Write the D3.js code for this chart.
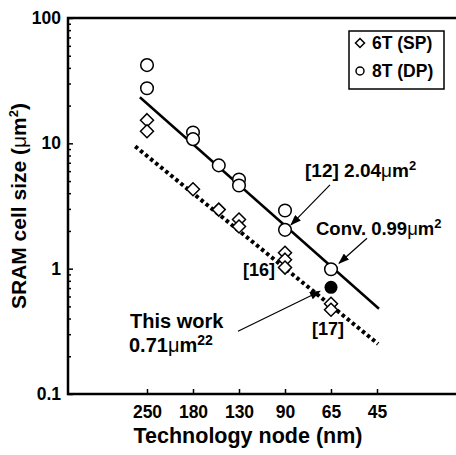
<!DOCTYPE html>
<html>
<head>
<meta charset="utf-8">
<script src="https://cdn.jsdelivr.net/npm/d3@7/dist/d3.min.js"></script>
<style type="text/css">
    body { margin: 0; background: #fff; }
    svg { display: block; font-family: Arial, "Liberation Sans", sans-serif; font-weight: bold; }
    .axis path { display: none; }
    .axis line { stroke: #000; stroke-width: 1.5; }
    .axis text { font-family: Arial, "Liberation Sans", sans-serif; font-size: 17.5px; font-weight: bold; fill: #000; }
    .mu { font-weight: normal; }
</style>
</head>
<body>
<div id="chart"></div>
<script type="text/javascript">
    // tick labels
    var nodeTicks = [250, 180, 130, 90, 65, 45];
    var sizeTicks = [0.1, 1, 10, 100];

    // 6T (SP) cells
    var sp6Nodes = [250, 250, 180, 150, 130, 130, 90, 90, 90, 65, 65];
    var sp6Sizes = [15.3, 12.5, 4.3, 2.96, 2.47, 2.17, 1.34, 1.18, 1.02, 0.525, 0.47];

    // 8T (DP) cells
    var dp8Nodes = [250, 250, 180, 180, 150, 130, 130, 90, 90, 65];
    var dp8Sizes = [42.1, 27.5, 12.2, 10.8, 6.67, 5.15, 4.61, 2.91, 2.04, 0.99];

    // this work
    var workNodes = [65];
    var workSizes = [0.71];

    // trend lines
    var dpTrendNodes = [263, 44.3];
    var dpTrendSizes = [23.3, 0.479];
    var spTrendNodes = [272, 44.6];
    var spTrendSizes = [9.46, 0.251];

    (function () {
    var W = 456, H = 455;
    var pl = 68, pr = 458, pt = 18, pb = 394;

    var svg = d3.select("#chart").append("svg")
        .attr("width", W)
        .attr("height", H);

    // nodes are evenly spaced generations, half-nodes fall in between on log
    var x = d3.scaleLog()
        .domain(nodeTicks)
        .range(nodeTicks.map(function (d, i) { return 147 + i * 46; }));

    var y = d3.scaleLog()
        .domain([0.1, 100])
        .range([pb, pt]);

    var defs = svg.append("defs");
    defs.append("marker")
        .attr("id", "arrow")
        .attr("markerUnits", "userSpaceOnUse")
        .attr("markerWidth", 11)
        .attr("markerHeight", 8)
        .attr("refX", 10)
        .attr("refY", 4)
        .attr("orient", "auto")
        .append("path")
        .attr("d", "M0,0 L11,4 L0,8 Z")
        .attr("fill", "#000");

    // axes
    var minor = [];
    [0.1, 1, 10].forEach(function (dec) {
        for (var k = 2; k <= 9; k++) minor.push(dec * k);
    });

    svg.append("g")
        .attr("class", "axis")
        .attr("transform", "translate(" + pl + ",0)")
        .call(d3.axisLeft(y).tickValues(minor).tickSize(-3).tickFormat(""));

    svg.append("g")
        .attr("class", "axis")
        .attr("transform", "translate(" + pl + ",0)")
        .call(d3.axisLeft(y).tickValues(sizeTicks).tickSize(-5).tickPadding(7)
            .tickFormat(function (d) { return d < 1 ? "0.1" : d3.format("d")(d); }));

    svg.append("g")
        .attr("class", "axis")
        .attr("transform", "translate(0," + pb + ")")
        .call(d3.axisBottom(x).tickValues(nodeTicks).tickSize(-5).tickPadding(12)
            .tickFormat(d3.format("d")));

    svg.append("rect")
        .attr("x", pl)
        .attr("y", pt)
        .attr("width", pr - pl)
        .attr("height", pb - pt)
        .attr("fill", "none")
        .attr("stroke", "#000")
        .attr("stroke-width", 2.5);

    // axis titles
    var yTitle = svg.append("text")
        .attr("transform", "translate(26,206) rotate(-90)")
        .attr("text-anchor", "middle")
        .style("font-size", "21px");
    yTitle.append("tspan").text("SRAM cell size (");
    yTitle.append("tspan").attr("class", "mu").text("\u03bc");
    yTitle.append("tspan").text("m");
    yTitle.append("tspan").attr("dy", -8).style("font-size", "13px").text("2");
    yTitle.append("tspan").attr("dy", 8).text(")");

    svg.append("text")
        .attr("x", 248)
        .attr("y", 443)
        .attr("text-anchor", "middle")
        .style("font-size", "21.5px")
        .text("Technology node (nm)");

    // trend lines
    var line = d3.line()
        .x(function (d) { return x(d[0]); })
        .y(function (d) { return y(d[1]); });

    svg.append("path")
        .datum(d3.zip(dpTrendNodes, dpTrendSizes))
        .attr("d", line)
        .attr("fill", "none")
        .attr("stroke", "#000")
        .attr("stroke-width", 2.5);

    svg.append("path")
        .datum(d3.zip(spTrendNodes, spTrendSizes))
        .attr("d", line)
        .attr("fill", "none")
        .attr("stroke", "#000")
        .attr("stroke-width", 4)
        .attr("stroke-dasharray", "3.5,3");

    // markers
    var diamond = "M0,-6.5L6.5,0L0,6.5L-6.5,0Z";

    svg.append("g").selectAll("path")
        .data(d3.zip(sp6Nodes, sp6Sizes))
        .enter().append("path")
        .attr("d", diamond)
        .attr("transform", function (d) { return "translate(" + x(d[0]) + "," + y(d[1]) + ")"; })
        .attr("fill", "#fff")
        .attr("stroke", "#000")
        .attr("stroke-width", 1.5);

    svg.append("g").selectAll("circle")
        .data(d3.zip(dp8Nodes, dp8Sizes))
        .enter().append("circle")
        .attr("cx", function (d) { return x(d[0]); })
        .attr("cy", function (d) { return y(d[1]); })
        .attr("r", 6.3)
        .attr("fill", "#fff")
        .attr("stroke", "#000")
        .attr("stroke-width", 1.5);

    svg.append("g").selectAll("circle")
        .data(d3.zip(workNodes, workSizes))
        .enter().append("circle")
        .attr("cx", function (d) { return x(d[0]); })
        .attr("cy", function (d) { return y(d[1]); })
        .attr("r", 6.5)
        .attr("fill", "#000");

    // annotations: parts are plain strings, "mu", or {up: "..."} for superscript
    function label(tx, ty, size, parts) {
        var t = svg.append("text")
            .attr("x", tx)
            .attr("y", ty)
            .style("font-size", size + "px");
        parts.forEach(function (p) {
            if (p === "mu") {
                t.append("tspan").attr("class", "mu").text("\u03bc");
            } else if (typeof p === "object") {
                t.append("tspan").attr("dy", -7).style("font-size", Math.round(size * 0.7) + "px").text(p.up);
            } else {
                t.append("tspan").text(p);
            }
        });
        return t;
    }

    function arrow(node, size, x1, y1, x2, y2) {
        var px = x(node), py = y(size);
        svg.append("line")
            .attr("x1", px + x1).attr("y1", py + y1)
            .attr("x2", px + x2).attr("y2", py + y2)
            .attr("stroke", "#000")
            .attr("stroke-width", 1.2)
            .attr("marker-end", "url(#arrow)");
    }

    label(305, 177, 19, ["[12] 2.04", "mu", "m", { up: "2" }]);
    arrow(90, 2.04, 45, -45, 6, -5);

    label(316, 235, 18.5, ["Conv. 0.99", "mu", "m", { up: "2" }]);
    arrow(65, 0.99, 36, -31, 8, -6);

    label(243, 276, 18, ["[16]"]);
    label(312, 335, 18, ["[17]"]);

    label(130, 328, 20, ["This work"]);
    label(129, 352, 20, ["0.71", "mu", "m", { up: "22" }]);
    arrow(65, 0.71, -93, 44, -11, 4);

    // legend
    var lg = svg.append("g");
    lg.append("rect")
        .attr("x", 349).attr("y", 31)
        .attr("width", 95).attr("height", 58)
        .attr("fill", "#fff")
        .attr("stroke", "#000")
        .attr("stroke-width", 1.5);
    lg.append("path")
        .attr("d", "M0,-4.5L4.5,0L0,4.5L-4.5,0Z")
        .attr("transform", "translate(360,43)")
        .attr("fill", "#fff").attr("stroke", "#000").attr("stroke-width", 1.5);
    lg.append("circle")
        .attr("cx", 360).attr("cy", 71).attr("r", 4)
        .attr("fill", "#fff").attr("stroke", "#000").attr("stroke-width", 1.5);
    lg.append("text").attr("x", 372).attr("y", 49).style("font-size", "17.5px").text("6T (SP)");
    lg.append("text").attr("x", 372).attr("y", 77).style("font-size", "17.5px").text("8T (DP)");
    })();
</script>
</body>
</html>
